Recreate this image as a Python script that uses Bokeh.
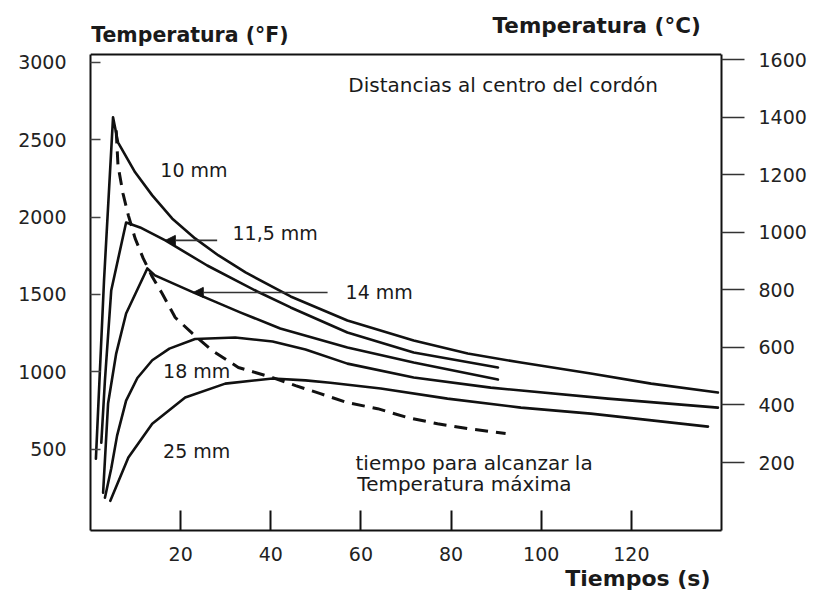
from bokeh.plotting import figure
from bokeh.models import Range1d, LinearAxis, Label, Arrow, NormalHead, FixedTicker, Span, Title
from bokeh.embed import file_html
from bokeh.resources import INLINE

# ---- data (time in s, temperature in °F) ----
t_10 = [1.2, 3.0, 5.0, 6.1, 9.9, 13.7, 18.1, 23.2, 28.4, 34.4, 44.4, 57.0, 71.7, 83.7, 95.5, 111.0, 124.4, 139.2]
f_10 = [439, 1590, 2644, 2483, 2289, 2140, 1991, 1862, 1752, 1642, 1487, 1332, 1202, 1118, 1060, 989, 924, 866]

t_115 = [2.4, 3.2, 4.6, 7.9, 11.0, 16.6, 25.9, 37.0, 44.4, 57.0, 71.7, 90.4]
f_115 = [543, 944, 1526, 1965, 1933, 1849, 1687, 1519, 1416, 1254, 1125, 1028]

t_14 = [2.8, 3.9, 5.7, 7.9, 12.6, 14.3, 22.8, 33.2, 42.1, 57.0, 71.7, 90.4]
f_14 = [219, 795, 1118, 1377, 1668, 1623, 1513, 1384, 1280, 1157, 1060, 950]

t_18 = [3.2, 4.6, 5.9, 7.9, 10.4, 13.7, 17.5, 23.2, 32.1, 40.4, 47.7, 57.0, 71.7, 88.8, 114.8, 139.2]
f_18 = [187, 375, 588, 814, 960, 1075, 1150, 1212, 1222, 1196, 1144, 1053, 963, 898, 827, 769]

t_25 = [4.4, 8.4, 13.7, 21.0, 29.9, 40.4, 47.7, 53.2, 64.4, 79.2, 95.5, 111.0, 137.0]
f_25 = [167, 446, 665, 834, 924, 957, 945, 930, 892, 827, 769, 730, 646]

t_peak = [5.7, 6.1, 7.2, 8.4, 9.9, 11.7, 13.7, 15.9, 18.8, 22.6, 27.0, 32.8, 40.4, 45.5, 51.0, 57.0, 63.7, 70.4, 77.0, 83.7, 92.1]
f_peak = [2560, 2334, 2153, 2011, 1862, 1733, 1614, 1506, 1351, 1248, 1138, 1028, 963, 911, 859, 801, 762, 704, 665, 633, 601]

x_ticks = [20, 40, 60, 80, 100, 120]
f_ticks = [500, 1000, 1500, 2000, 2500, 3000]
c_ticks = [200, 400, 600, 800, 1000, 1200, 1400, 1600]

FONT = "DejaVu Sans"
INK = "#111111"

# plot box: °F axis from -25 to 3050, °C axis from -36 to 1617; the frame is
# extended upward so that the axis titles above the box can be drawn as labels
F_LO, F_HI, F_TOP = -25, 3050, 3399
C_LO, C_HI, C_TOP = -36, 1617, 1805

p = figure(width=815, height=595, output_backend="svg", toolbar_location=None,
           x_range=Range1d(0, 140), y_range=Range1d(F_LO, F_TOP),
           min_border_left=90, min_border_right=94, min_border_top=0, min_border_bottom=65)
p.grid.visible = False
p.background_fill_color = "white"
p.border_fill_color = "white"
p.outline_line_color = None

# top edge of the box
p.add_layout(Span(location=F_HI, dimension="width", line_color=INK, line_width=2))

# bottom axis
xa = p.xaxis[0]
xa.ticker = FixedTicker(ticks=x_ticks)
xa.major_tick_in = 20
xa.major_tick_out = 0
xa.minor_tick_line_color = None
xa.axis_line_width = 2
xa.axis_line_color = INK
xa.major_tick_line_width = 2
xa.major_tick_line_color = INK
xa.major_label_text_font = FONT
xa.major_label_text_font_size = "19px"
xa.major_label_text_color = "#222222"
xa.major_label_standoff = 16

# left axis (°F)
ya = p.yaxis[0]
ya.bounds = (F_LO, F_HI)
ya.ticker = FixedTicker(ticks=f_ticks)
ya.major_tick_in = 10
ya.major_tick_out = 0
ya.minor_tick_line_color = None
ya.axis_line_width = 2
ya.axis_line_color = INK
ya.major_tick_line_width = 1.5
ya.major_tick_line_color = "#444444"
ya.major_label_text_font = FONT
ya.major_label_text_font_size = "19px"
ya.major_label_text_color = "#222222"
ya.major_label_standoff = 24

# right axis (°C)
p.extra_y_ranges = {"C": Range1d(C_LO, C_TOP)}
ra = LinearAxis(y_range_name="C", ticker=FixedTicker(ticks=c_ticks), bounds=(C_LO, C_HI))
ra.major_tick_in = 0
ra.major_tick_out = 23
ra.minor_tick_line_color = None
ra.axis_line_width = 2
ra.axis_line_color = INK
ra.major_tick_line_width = 1.5
ra.major_tick_line_color = "#333333"
ra.major_label_text_font = FONT
ra.major_label_text_font_size = "19px"
ra.major_label_text_color = "#222222"
ra.major_label_standoff = 14
p.add_layout(ra, "right")

# x axis title
p.add_layout(Title(text="Tiempos (s)", align="right", offset=11, standoff=0,
                   text_font=FONT, text_font_size="22px", text_font_style="bold",
                   text_color="#1a1a1a"), "below")

# curves
for xs, ys in [(t_10, f_10), (t_115, f_115), (t_14, f_14), (t_18, f_18), (t_25, f_25)]:
    p.line(xs, ys, line_color=INK, line_width=2.6, line_join="round", line_cap="round")
p.line(t_peak, f_peak, line_color=INK, line_width=3, line_dash="13 8")

# arrows
for xs, xe, yv in [(28.1, 16.6, 1849), (52.6, 22.8, 1513)]:
    p.add_layout(Arrow(end=NormalHead(size=10, fill_color=INK, line_color=INK),
                       x_start=xs, y_start=yv, x_end=xe, y_end=yv,
                       line_width=1.6, line_color="#333333"))

def lab(x, y, text, size="19px", bold=False):
    p.add_layout(Label(x=x, y=y, text=text,
                       text_font=FONT, text_font_size=size,
                       text_font_style="bold" if bold else "normal",
                       text_color="#1a1a1a", text_baseline="middle", text_align="left"))

lab(57.2, 2851, "Distancias al centro del cordón", "20px")
lab(15.5, 2302, "10 mm")
lab(31.5, 1900, "11,5 mm")
lab(56.6, 1513, "14 mm")
lab(16.1, 1008, "18 mm")
lab(16.1, 491, "25 mm")
lab(58.8, 413, "tiempo para alcanzar la", "20px")
lab(59.2, 277, "Temperatura máxima", "20px")

lab(0.15, 3173, "Temperatura (°F)", "20.5px", True)
lab(89.2, 3237, "Temperatura (°C)", "21.5px", True)

open("out.html", "w").write(file_html(p, INLINE))
